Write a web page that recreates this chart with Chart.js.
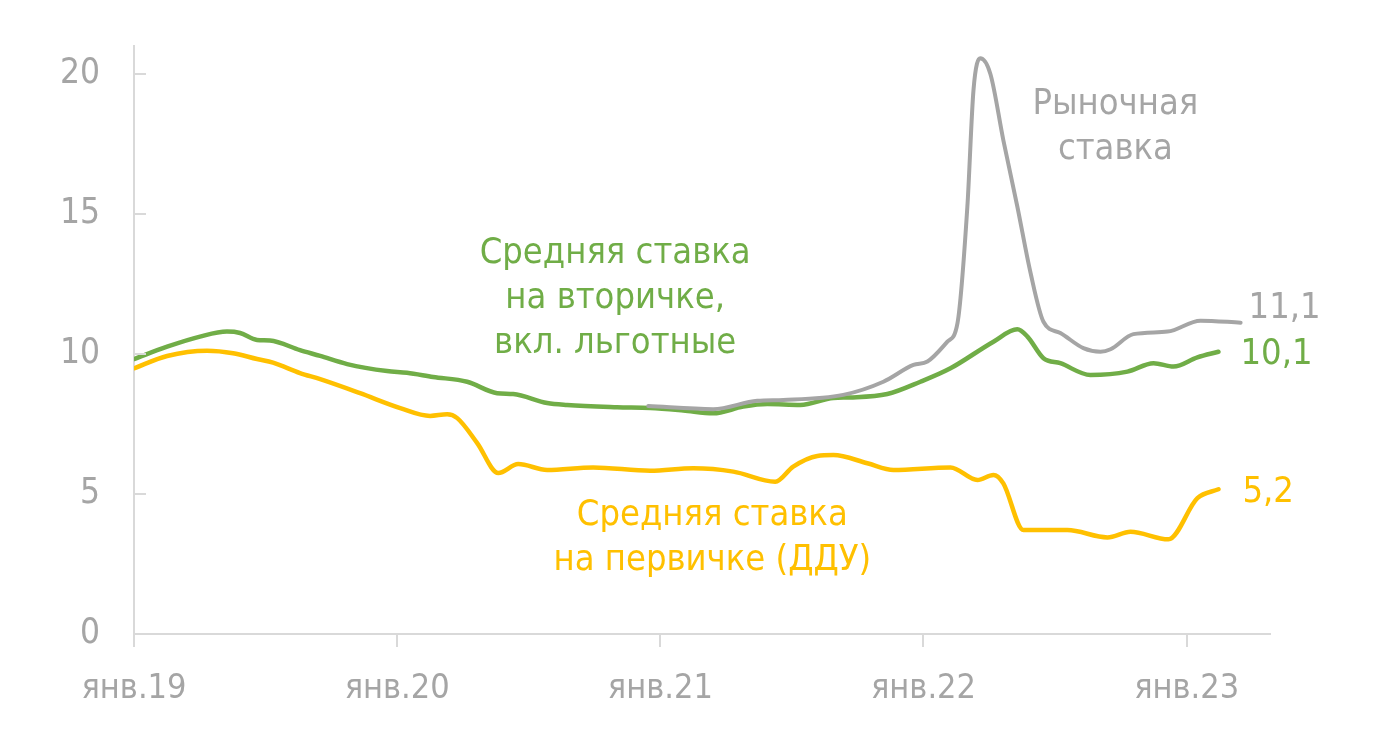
<!DOCTYPE html>
<html>
<head>
<meta charset="utf-8">
<script src="https://cdn.jsdelivr.net/npm/chart.js@4"></script>
<style>
  html, body { margin: 0; padding: 0; background: #fff; }
  #wrap { width: 1383px; height: 738px; }
</style>
</head>
<body>
<div id="wrap"><canvas id="myChart" width="1383" height="738"></canvas></div>
<script>
// x values are months since янв.19
const tickMonths = [0, 12, 24, 36, 48];
const tickLabels = ['янв.19', 'янв.20', 'янв.21', 'янв.22', 'янв.23'];

// Рыночная ставка
const marketMonths = [23.45, 26.41, 28.42, 29.61, 32.34, 34.17, 35.54, 36.18, 37.09, 37.55, 38.0, 38.28, 38.59, 39.05, 39.64, 40.28, 40.88, 41.47, 42.24, 43.29, 44.07, 44.53, 45.57, 47.13, 48.63, 50.46];
const marketRates = [8.14, 8.03, 8.33, 8.36, 8.54, 9.01, 9.61, 9.73, 10.44, 11.1, 15.26, 19.43, 20.56, 20.0, 17.64, 15.26, 12.9, 11.15, 10.75, 10.21, 10.08, 10.17, 10.71, 10.8, 11.19, 11.12];

// Средняя ставка на вторичке, вкл. льготные
const secondaryMonths = [0, 1.51, 3.01, 4.24, 4.84, 5.61, 6.2, 7.57, 8.49, 9.72, 11.54, 12.45, 13.64, 15.19, 16.56, 17.29, 18.84, 19.75, 22.03, 23.54, 25.05, 26.41, 27.78, 28.88, 30.38, 31.89, 32.66, 34.35, 35.86, 37.23, 39.19, 40.28, 40.74, 41.47, 42.24, 43.61, 45.3, 46.49, 47.4, 48.49, 49.45];
const secondaryRates = [9.82, 10.26, 10.62, 10.8, 10.75, 10.5, 10.48, 10.14, 9.93, 9.64, 9.39, 9.33, 9.18, 9.01, 8.6, 8.57, 8.25, 8.18, 8.1, 8.07, 7.98, 7.88, 8.12, 8.21, 8.18, 8.43, 8.45, 8.57, 9.01, 9.49, 10.44, 10.88, 10.62, 9.85, 9.67, 9.25, 9.37, 9.67, 9.55, 9.88, 10.08];

// Средняя ставка на первичке (ДДУ)
const primaryMonths = [0, 1.51, 3.33, 4.52, 5.61, 6.34, 7.57, 8.49, 10.31, 12.14, 13.5, 14.28, 14.74, 15.65, 16.61, 17.52, 18.84, 20.94, 23.54, 25.5, 27.33, 29.24, 30.06, 31.16, 31.89, 33.44, 34.63, 37.23, 38.46, 39.19, 39.64, 40.56, 41.2, 42.56, 44.39, 45.44, 47.17, 48.49, 49.45];
const primaryRates = [9.49, 9.93, 10.12, 10.03, 9.82, 9.69, 9.32, 9.1, 8.6, 8.07, 7.79, 7.85, 7.71, 6.82, 5.75, 6.07, 5.86, 5.95, 5.83, 5.92, 5.8, 5.44, 5.98, 6.36, 6.39, 6.1, 5.86, 5.95, 5.5, 5.68, 5.38, 3.71, 3.71, 3.71, 3.45, 3.65, 3.38, 4.85, 5.17];

const endLabels = ['11,1', '10,1', '5,2'];

const GRAY = '#A5A5A5';
const GREEN = '#70AD47';
const YELLOW = '#FFC000';
const AXIS = '#D9D9D9';
const FONT = "'DejaVu Sans Condensed', 'DejaVu Sans', sans-serif";

function pts(xs, ys) {
  return xs.map((x, i) => ({ x: x, y: ys[i] }));
}

// text annotations next to the lines
const annotations = {
  id: 'annotations',
  afterDatasetsDraw(chart) {
    const ctx = chart.ctx;
    const xs = chart.scales.x, ys = chart.scales.y;
    ctx.save();
    ctx.font = '36px ' + FONT;
    ctx.textBaseline = 'middle';
    ctx.textAlign = 'center';
    const blocks = [
      { color: GREEN, m: 21.94, v: 13.6, lines: ['Средняя ставка', 'на вторичке,', 'вкл. льготные'] },
      { color: GRAY, m: 44.75, v: 18.9, lines: ['Рыночная', 'ставка'] },
      { color: YELLOW, m: 26.37, v: 4.21, lines: ['Средняя ставка', 'на первичке (ДДУ)'] }
    ];
    blocks.forEach(b => {
      ctx.fillStyle = b.color;
      b.lines.forEach((t, i) => {
        ctx.fillText(t, xs.getPixelForValue(b.m), ys.getPixelForValue(b.v) + i * 45);
      });
    });
    // end-of-line values
    ctx.textAlign = 'left';
    const offs = [[8, -14], [22, 3], [24, 3]];
    chart.data.datasets.forEach((ds, i) => {
      const meta = chart.getDatasetMeta(i);
      const last = meta.data[meta.data.length - 1];
      ctx.fillStyle = ds.borderColor;
      ctx.fillText(endLabels[i], last.x + offs[i][0], last.y + offs[i][1]);
    });
    // short inner tick marks on the y axis
    ctx.strokeStyle = AXIS;
    ctx.lineWidth = 2;
    ys.ticks.forEach(t => {
      if (t.value === 0) return;
      const y = ys.getPixelForValue(t.value);
      ctx.beginPath();
      ctx.moveTo(xs.left, y);
      ctx.lineTo(xs.left + 12, y);
      ctx.stroke();
    });
    ctx.restore();
  }
};

const data = {
  datasets: [
    { label: 'Рыночная ставка', data: pts(marketMonths, marketRates), borderColor: GRAY, borderWidth: 4 },
    { label: 'Средняя ставка на вторичке, вкл. льготные', data: pts(secondaryMonths, secondaryRates), borderColor: GREEN, borderWidth: 4.5 },
    { label: 'Средняя ставка на первичке (ДДУ)', data: pts(primaryMonths, primaryRates), borderColor: YELLOW, borderWidth: 4.5 }
  ]
};

const config = {
  type: 'line',
  data: data,
  options: {
    responsive: false,
    animation: false,
    layout: { padding: { left: 0, right: 113, top: 46, bottom: 0 } },
    elements: {
      point: { radius: 0 },
      line: { cubicInterpolationMode: 'monotone', borderCapStyle: 'round', borderJoinStyle: 'round' }
    },
    plugins: {
      legend: { display: false },
      tooltip: { enabled: false }
    },
    scales: {
      x: {
        type: 'linear',
        min: 0,
        max: 51.8,
        afterBuildTicks: s => { s.ticks = tickMonths.map(v => ({ value: v })); },
        afterFit: s => { s.height = 104; },
        grid: { drawOnChartArea: false, color: AXIS, lineWidth: 2, tickLength: 13 },
        border: { color: AXIS, width: 2 },
        ticks: {
          color: GRAY,
          font: { size: 34, family: FONT },
          padding: 22,
          maxRotation: 0,
          callback: v => tickLabels[tickMonths.indexOf(v)]
        }
      },
      y: {
        min: 0,
        max: 21,
        afterBuildTicks: s => { s.ticks = [0, 5, 10, 15, 20].map(v => ({ value: v })); },
        afterFit: s => { s.width = 134; s.paddingTop = 0; s.paddingBottom = 0; },
        grid: { drawOnChartArea: false, drawTicks: false },
        border: { color: AXIS, width: 2 },
        ticks: {
          color: GRAY,
          font: { size: 35, family: FONT },
          padding: 34
        }
      }
    }
  },
  plugins: [annotations]
};

const ctx = document.getElementById('myChart').getContext('2d');
const myChart = new Chart(ctx, config);
</script>
</body>
</html>
